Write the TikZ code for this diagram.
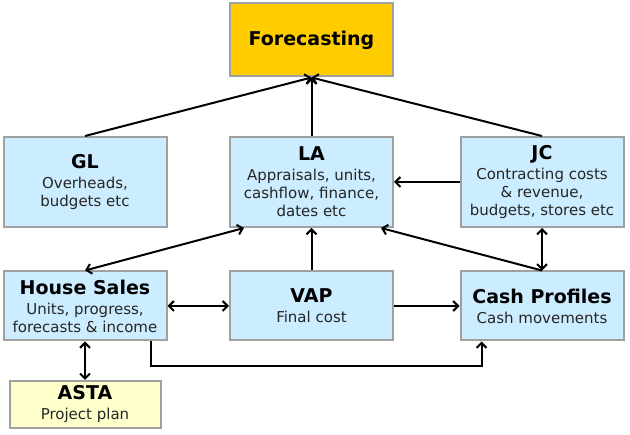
\documentclass[tikz,border=0pt]{standalone}
\usepackage{fontspec}
\setmainfont{DejaVu Sans}
\usetikzlibrary{arrows.meta,positioning}

\definecolor{boxblue}{HTML}{CCECFF}
\definecolor{boxgold}{HTML}{FFCC00}
\definecolor{boxcream}{HTML}{FFFFCC}
\definecolor{boxedge}{HTML}{A0A0A0}

\newcommand{\boxtitle}[1]{{\fontsize{19}{21}\selectfont\bfseries\color{black}#1}}

\begin{document}
\begin{tikzpicture}[x=1pt,y=-1pt,
    block/.style={draw=boxedge,line width=2pt,fill=boxblue,align=center,minimum width=163pt,font=\fontsize{15}{18}\selectfont,text=black!85},
    tall/.style={block,minimum height=90pt},
    short/.style={block,minimum height=69pt},
    link/.style={line width=2pt,-{Straight Barb[length=5pt,width=10pt]}},
    both/.style={line width=2pt,{Straight Barb[length=5pt,width=10pt]}-{Straight Barb[length=5pt,width=10pt]}}
  ]
    \useasboundingbox (0,0) rectangle (630,435);

    % Forecasting at top
    \node[block,fill=boxgold,minimum height=73pt] (fc) at (311.5,40) {\boxtitle{Forecasting}};

    % Middle row
    \node[tall] (gl) at (85,182) {\boxtitle{GL}\\[2pt]Overheads,\\budgets etc};
    \node[tall] (la) at (311.5,182) {\boxtitle{LA}\\[2pt]Appraisals, units,\\cashflow, finance,\\dates etc};
    \node[tall] (jc) at (542,182) {\boxtitle{JC}\\[2pt]Contracting costs\\\& revenue,\\budgets, stores etc};

    % Bottom row
    \node[short] (hs) at (85,306) {\boxtitle{House Sales}\\[2pt]Units, progress,\\forecasts \& income};
    \node[short] (vap) at (311.5,306) {\boxtitle{VAP}\\[2pt]Final cost};
    \node[short] (cp) at (542,306) {\boxtitle{Cash Profiles}\\[2pt]Cash movements};
    \node[block,fill=boxcream,minimum width=151pt,minimum height=47pt] (asta) at (85,404.5) {\boxtitle{ASTA}\\[2pt]Project plan};

    % Feeds into Forecasting
    \draw[link] (gl.north) -- (fc.south);
    \draw[link] (la.north) -- (fc.south);
    \draw[link] (jc.north) -- (fc.south);

    % Feeds into LA
    \draw[link] (jc.west) -- (la.east);
    \draw[both] (hs.north) -- ([xshift=15pt]la.south west);
    \draw[link] (vap.north) -- (la.south);
    \draw[link] (cp.north) -- ([xshift=-13pt]la.south east);

    % Links along the bottom
    \draw[both] (jc.south) -- (cp.north);
    \draw[both] (hs.east) -- (vap.west);
    \draw[link] (vap.east) -- (cp.west);
    \draw[both] (hs.south) -- (asta.north);
    \draw[link] ([xshift=-17pt]hs.south east) -- ++(0,25) -| ([xshift=22pt]cp.south west);
  \end{tikzpicture}
\end{document}
